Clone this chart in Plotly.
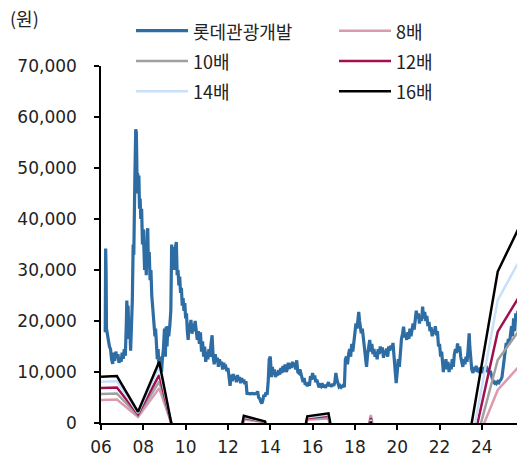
import plotly.graph_objects as go

# ---- data ----
price_x = [
    2006.20, 2006.22, 2006.24, 2006.26, 2006.30, 2006.35, 2006.40, 2006.45, 2006.50, 2006.55,
    2006.60, 2006.65, 2006.70, 2006.75, 2006.80, 2006.85, 2006.90, 2006.95, 2007.00, 2007.05,
    2007.10, 2007.15, 2007.20, 2007.22, 2007.25, 2007.28, 2007.32, 2007.36, 2007.40, 2007.44,
    2007.48, 2007.52, 2007.55, 2007.60, 2007.64, 2007.67, 2007.69, 2007.71, 2007.73, 2007.76,
    2007.79, 2007.82, 2007.85, 2007.88, 2007.92, 2007.96, 2008.00, 2008.03, 2008.06, 2008.10,
    2008.14, 2008.18, 2008.21, 2008.24, 2008.28, 2008.32, 2008.36, 2008.40, 2008.45, 2008.50,
    2008.55, 2008.58, 2008.62, 2008.66, 2008.70, 2008.74, 2008.78, 2008.82, 2008.86, 2008.90,
    2008.95, 2009.00, 2009.04, 2009.08, 2009.12, 2009.16, 2009.20, 2009.25, 2009.30, 2009.34,
    2009.38, 2009.42, 2009.46, 2009.50, 2009.56, 2009.60, 2009.64, 2009.68, 2009.72, 2009.76,
    2009.80, 2009.84, 2009.88, 2009.92, 2009.96, 2010.00, 2010.04, 2010.08, 2010.12, 2010.16,
    2010.20, 2010.25, 2010.30, 2010.35, 2010.40, 2010.45, 2010.50, 2010.55, 2010.60, 2010.65,
    2010.70, 2010.75, 2010.80, 2010.85, 2010.90, 2010.95, 2011.00, 2011.05, 2011.10, 2011.15,
    2011.20, 2011.25, 2011.30, 2011.35, 2011.40, 2011.45, 2011.50, 2011.55, 2011.60, 2011.65,
    2011.70, 2011.75, 2011.80, 2011.85, 2011.90, 2011.95, 2012.00, 2012.05, 2012.10, 2012.15,
    2012.20, 2012.25, 2012.30, 2012.35, 2012.40, 2012.45, 2012.50, 2012.55, 2012.60, 2012.65,
    2012.70, 2012.75, 2012.80, 2012.85, 2012.90, 2012.95, 2013.05, 2013.15, 2013.25, 2013.35,
    2013.40, 2013.45, 2013.50, 2013.55, 2013.60, 2013.65, 2013.70, 2013.75, 2013.80, 2013.85,
    2013.90, 2013.95, 2014.00, 2014.03, 2014.06, 2014.10, 2014.15, 2014.20, 2014.25, 2014.30,
    2014.35, 2014.40, 2014.45, 2014.50, 2014.55, 2014.60, 2014.65, 2014.70, 2014.75, 2014.80,
    2014.85, 2014.90, 2014.95, 2015.00, 2015.05, 2015.10, 2015.15, 2015.20, 2015.25, 2015.30,
    2015.35, 2015.40, 2015.45, 2015.50, 2015.55, 2015.60, 2015.65, 2015.70, 2015.75, 2015.80,
    2015.85, 2015.90, 2015.95, 2016.00, 2016.05, 2016.10, 2016.15, 2016.20, 2016.25, 2016.30,
    2016.35, 2016.40, 2016.45, 2016.50, 2016.55, 2016.60, 2016.65, 2016.70, 2016.75, 2016.80,
    2016.85, 2016.90, 2016.95, 2017.00, 2017.05, 2017.10, 2017.15, 2017.20, 2017.25, 2017.30,
    2017.35, 2017.40, 2017.45, 2017.50, 2017.55, 2017.60, 2017.65, 2017.70, 2017.75, 2017.80,
    2017.85, 2017.90, 2017.95, 2018.00, 2018.05, 2018.10, 2018.15, 2018.18, 2018.22, 2018.26,
    2018.30, 2018.35, 2018.40, 2018.45, 2018.50, 2018.55, 2018.60, 2018.65, 2018.70, 2018.75,
    2018.80, 2018.85, 2018.90, 2018.95, 2019.00, 2019.05, 2019.10, 2019.15, 2019.20, 2019.25,
    2019.30, 2019.35, 2019.40, 2019.45, 2019.50, 2019.55, 2019.60, 2019.65, 2019.70, 2019.75,
    2019.80, 2019.85, 2019.90, 2019.95, 2020.00, 2020.05, 2020.10, 2020.15, 2020.20, 2020.25,
    2020.30, 2020.35, 2020.40, 2020.45, 2020.50, 2020.55, 2020.60, 2020.65, 2020.70, 2020.75,
    2020.80, 2020.85, 2020.90, 2020.95, 2021.00, 2021.05, 2021.10, 2021.15, 2021.20, 2021.25,
    2021.30, 2021.35, 2021.40, 2021.45, 2021.50, 2021.55, 2021.60, 2021.65, 2021.70, 2021.75,
    2021.80, 2021.85, 2021.90, 2021.95, 2022.00, 2022.05, 2022.10, 2022.15, 2022.18, 2022.22,
    2022.26, 2022.30, 2022.35, 2022.40, 2022.45, 2022.50, 2022.55, 2022.60, 2022.65, 2022.70,
    2022.75, 2022.80, 2022.85, 2022.90, 2022.95, 2023.00, 2023.05, 2023.10, 2023.15, 2023.20,
    2023.25, 2023.30, 2023.35, 2023.40, 2023.43, 2023.47, 2023.52, 2023.58, 2023.63, 2023.68,
    2023.73, 2023.78, 2023.83, 2023.88, 2023.93, 2024.00, 2024.05, 2024.10, 2024.15, 2024.20,
    2024.25, 2024.30, 2024.35, 2024.40, 2024.45, 2024.50, 2024.55, 2024.60, 2024.65, 2024.70,
    2024.75, 2024.80, 2024.85, 2024.90, 2024.95, 2025.00, 2025.05, 2025.10, 2025.15, 2025.20,
    2025.25, 2025.30, 2025.35, 2025.40, 2025.45, 2025.50, 2025.55, 2025.60, 2025.65, 2025.70,
]
price_y = [
    17800, 34200, 30000, 18500, 17000, 16200, 15000, 14500, 12500, 11600,
    13800, 12200, 14000, 12800, 13500, 11800, 12600, 12000, 13800, 12600,
    14500, 13200, 20000, 24000, 21000, 23000, 16500, 19000, 14200, 18000,
    24000, 35000, 33000, 48000, 57600, 57000, 52000, 45000, 49000, 46000,
    48500, 42000, 44000, 40000, 42000, 35000, 38000, 34000, 30000, 33000,
    29000, 37500, 38200, 31000, 33500, 28000, 30000, 25000, 22000, 20500,
    17000, 18500, 14000, 12500, 14500, 10500, 13000, 11500, 10000, 12500,
    14500, 18500, 13000, 18900, 15000, 19000, 17000, 19000, 22000, 35000,
    32000, 34500, 30000, 34000, 35500, 29000, 30000, 27000, 28700, 25500,
    26500, 23000, 24500, 22000, 23500, 20500, 21500, 18000, 16300, 19500,
    18500, 20200, 17500, 19500, 18000, 20000, 17500, 16300, 18000, 15500,
    17800, 14000, 16000, 13000, 15000, 12000, 14000, 12500, 14500, 13000,
    15500, 17200, 13000, 11500, 13500, 12000, 12800, 11000, 12500, 11500,
    12000, 10500, 11800, 10800, 11000, 10200, 10800, 9000, 7300, 9500,
    8200, 9600, 8500, 9200, 8000, 9400, 8300, 9000, 7800, 8800,
    8000, 8500, 7600, 8200, 5800, 5800, 5700, 5800, 5700, 5800,
    6200, 5000, 4800, 4200, 3800, 4500, 5500, 5200, 6000, 5500,
    8000, 12500, 13000, 11000, 9000, 11000, 9500, 10500, 9000, 10000,
    9300, 10400, 9500, 10800, 9800, 11200, 10000, 11500, 10000, 10500,
    11800, 10600, 11700, 10800, 12000, 11000, 11800, 10500, 12300, 10000,
    9800, 10500, 9500, 9000, 8000, 8800, 7500, 7800, 7200, 8000,
    7300, 9200, 8500, 9800, 8600, 9300, 8000, 8500, 7500, 7000,
    7400, 7200, 7800, 7000, 7500, 6900, 7300, 7500, 8000, 7200,
    7600, 7100, 7700, 7300, 8000, 9800, 8500, 7500, 7100, 7300,
    7000, 7200, 7400, 7000, 12500, 13000, 11500, 13500, 14500, 13000,
    15500, 14000, 16000, 17500, 19500, 18500, 20500, 21800, 20000, 18800,
    17600, 18500, 16500, 14500, 13000, 11000, 13500, 15000, 16300, 14000,
    15500, 13500, 14500, 13000, 14000, 12500, 14500, 13500, 15000, 13800,
    14800, 12800, 14200, 13300, 14600, 13000, 15000, 14200, 15200, 14500,
    15700, 13000, 11000, 7800, 10000, 12500, 11000, 14000, 16500, 17500,
    18900, 16800, 17500, 16300, 17800, 16500, 18500, 17000, 18000, 19500,
    18300, 20000, 22000, 20500, 21500, 19500, 21000, 20000, 22800, 20500,
    21800, 20000, 21000, 19000, 19800, 18000, 18800, 17000, 18300, 17500,
    19000, 17200, 18000, 15000, 15500, 13000, 14000, 11500, 10000, 12000,
    11000, 12500, 10500, 12000, 10000, 11500, 10500, 12500, 11000, 13500,
    14500, 13700, 15600, 14000, 15000, 13000, 12000, 11000, 12500, 11500,
    13000, 12000, 14500, 17600, 15000, 12000, 10500, 9800, 11000, 10200,
    11200, 10000, 10800, 9800, 10600, 10500, 9800, 11000, 10200, 11200,
    10000, 10800, 9600, 10200, 9200, 8600, 8000, 7800, 8200, 7800,
    8100, 7900, 8300, 8500, 9000, 10500, 12500, 14500, 15700, 15000,
    16500, 15500, 17500, 19000, 17000, 20500, 18000, 21500, 20000, 22000,
]

band_x = [2006.0, 2006.75, 2007.75, 2008.75, 2009.75, 2010.75, 2011.75, 2012.75,
          2013.75, 2014.75, 2015.75, 2016.75, 2017.75, 2018.75, 2019.75, 2020.75,
          2021.75, 2022.75, 2024.75, 2025.75]
band_8x = [4500, 4600, 1200, 6800, -5130, -20000, -20000, 700,
           150, -20000, 650, 900, -20000, 1570, -20000, -20000,
           -20000, -13880, 6470, 11100]
band_10x = [5700, 5800, 1450, 8100, -6110, -20000, -20000, 870,
            190, -20000, 810, 1150, -20000, 1250, -20000, -20000,
            -20000, -18930, 12350, 18100]
band_12x = [6860, 6950, 1700, 9400, -7090, -20000, -20000, 1050,
            230, -20000, 980, 1400, -20000, 930, -20000, -20000,
            -20000, -19630, 17900, 24700]
band_14x = [8100, 8200, 1950, 11000, -8330, -20000, -20000, 1220,
            260, -20000, 1140, 1650, -20000, 620, -20000, -20000,
            -20000, -21090, 24100, 31700]
band_16x = [9080, 9200, 2200, 12000, -9050, -20000, -20000, 1400,
            300, -20000, 1300, 1900, -20000, 300, -20000, -20000,
            -20000, -18560, 29700, 38300]

series_names = ["롯데관광개발", "8배", "10배", "12배", "14배", "16배"]
x_tickvals = [2006, 2008, 2010, 2012, 2014, 2016, 2018, 2020, 2022, 2024]
x_ticktext = ["06", "08", "10", "12", "14", "16", "18", "20", "22", "24"]
y_tickvals = [0, 10000, 20000, 30000, 40000, 50000, 60000, 70000]
unit_label = "(원)"

# ---- figure ----
KR = "Noto Sans CJK KR"
NUM = "DejaVu Sans, Noto Sans CJK KR"
TXT = "#222222"


def legend_label(s):
    return '<span style="font-size:18px">' + s + '</span>'


fig = go.Figure()
fig.add_trace(go.Scatter(x=price_x, y=price_y, mode="lines", name=legend_label(series_names[0]),
                         line=dict(color="#2E6CA4", width=3.2)))
bands = [band_8x, band_10x, band_12x, band_14x, band_16x]
colors = ["#DC9AAF", "#A0A0A0", "#A0104F", "#C9E0FA", "#000000"]
for name, vals, c in zip(series_names[1:], bands, colors):
    fig.add_trace(go.Scatter(x=band_x, y=vals, mode="lines", name=legend_label(name),
                             line=dict(color=c, width=2.5)))

fig.update_layout(
    width=517, height=458,
    margin=dict(l=101, r=0, t=66, b=35, pad=0, autoexpand=False),
    paper_bgcolor="white", plot_bgcolor="white",
    font=dict(family=KR, size=18, color=TXT),
    showlegend=True,
    legend=dict(orientation="h", xref="paper", yref="paper",
                x=(537 - 101) / 416, y=(423 - 10.5) / 357,
                xanchor="right", yanchor="top",
                entrywidth=136, entrywidthmode="pixels",
                itemwidth=52,
                font=dict(family=KR, size=21, color=TXT),
                bgcolor="rgba(0,0,0,0)", traceorder="normal"),
    xaxis=dict(range=[2006, 2025.66], tickvals=x_tickvals, ticktext=x_ticktext,
               showgrid=False, zeroline=False, showline=True, linecolor="black",
               linewidth=1.5, ticks="outside", ticklen=5, tickcolor="black",
               tickwidth=1.5, ticklabelstandoff=3,
               tickfont=dict(family=NUM, size=17, color=TXT)),
    yaxis=dict(range=[0, 70000], tickvals=y_tickvals, tickformat=",d",
               showgrid=False, zeroline=False, showline=True, linecolor="black",
               linewidth=1.5, ticks="outside", ticklen=5, tickcolor="black",
               tickwidth=1.5, ticklabelstandoff=14,
               tickfont=dict(family=NUM, size=17, color=TXT)),
    annotations=[dict(text=unit_label, xref="paper", yref="paper",
                      x=(8 - 101) / 416, y=(423 - 18) / 357,
                      xanchor="left", yanchor="middle", showarrow=False,
                      font=dict(family=KR, size=18, color=TXT))],
)

fig.write_html("out.html", config={"displayModeBar": False},
               post_script="document.body.style.margin='0px';document.body.style.padding='0px';")
